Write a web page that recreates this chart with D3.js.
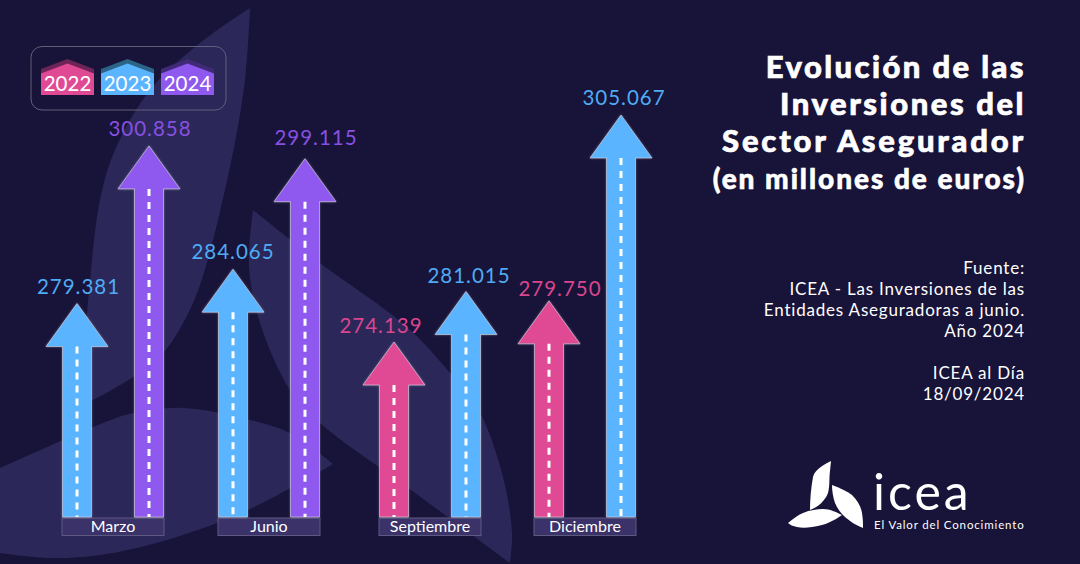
<!DOCTYPE html>
<html><head><meta charset="utf-8">
<script src="https://cdn.jsdelivr.net/npm/d3@7/dist/d3.min.js"></script>
<style>html,body{margin:0;padding:0;background:#181338}svg{display:block}text{font-family:Lato,sans-serif}</style>
</head><body><svg id="c" width="1080" height="564"></svg>
<script>
const months=["Marzo","Junio","Septiembre","Diciembre"];
const seriesNames=["2022","2023","2024"];
const seriesColors=["#e04a94","#5ab4ff","#8f58ee"];
const labelColors=["#d9468f","#4fabf3","#8750e0"];
const capColors=["#6e2457","#2c6488","#402a78"];
const arrowMonth=[0,0,1,1,2,2,3,3];
const arrowSlot=[0,1,0,1,0,1,0,1];
const arrowSeries=[1,2,1,2,0,1,0,1];
const arrowValues=[279381,300858,284065,299115,274139,281015,279750,305067];
const titleLines=["Evolución de las","Inversiones del","Sector Asegurador"];
const subtitle="(en millones de euros)";
const sourceLines=["Fuente:","ICEA - Las Inversiones de las","Entidades Aseguradoras a junio.","Año 2024","","ICEA al Día","18/09/2024"];
// layout nudges (not data)
const monthCentres=[113,269,430,585];
const labelDx=[1.5,1,0,11,-13,3,11,3];
const labelDy=[10,10,10,14,9,9,5,10];
const titleSpacing=[2.4,2.55,2.8];

const svg=d3.select("#c");
const fmt=v=>d3.format(",")(v).replace(/,/g,".");
const shape="#2b2758";
const y=d3.scaleLinear().domain([250300,305067]).range([517,115]);
const mx=d3.scaleOrdinal().domain(months).range(monthCentres);
const off=d3.scalePoint().domain([0,1]).range([-36,36]);

// background leaves
const lg=svg.append("g").attr("fill",shape);
const curve=d3.line().curve(d3.curveCatmullRom.alpha(.5));
const leaf=(a,b)=>curve(a)+curve(b).replace(/^M[^C]*/,"")+"Z";
lg.append("path").attr("d",leaf(
 [[250,8],[200,43],[150,90],[115,150],[100,200],[90,280],[85,340],[80,406]],
 [[80,406],[93,400],[133,377],[163,353],[182,325],[200,285],[230,167],[245,80],[250,8]]));
lg.append("path").attr("d",leaf(
 [[253,210],[320,263],[407,327],[450,373],[480,413],[503,477],[512,533],[510,563]],
 [[510,563],[407,487],[320,423],[290,390],[260,323],[249,267],[253,210]]));
lg.append("path").attr("d",leaf(
 [[0,468],[63,440],[93,427],[133,413],[183,408],[250,420],[290,433],[333,464]],
 [[333,464],[248,510],[167,540],[100,555],[50,558],[0,553]]));

// legend
svg.append("rect").attr("x",31).attr("y",46.5).attr("width",195).attr("height",63.5).attr("rx",11).attr("fill","none").attr("stroke","#625f78").attr("stroke-width",1);
const lx=d3.scalePoint().domain(seriesNames).range([67.5,187.5]);
seriesNames.forEach((s,i)=>{
  const g=svg.append("g").attr("transform",`translate(${lx(s)},0)`);
  g.append("path").attr("d","M-26.5 69L0 59L26.5 69V90H-26.5Z").attr("fill",capColors[i]);
  g.append("path").attr("d","M-26.5 73.5L0 63.5L26.5 73.5V95H-26.5Z").attr("fill",seriesColors[i]);
  g.append("text").attr("x",0).attr("y",91).attr("text-anchor","middle").attr("fill","#fff").attr("font-size",20.5).text(s);
});

// month boxes
months.forEach(m=>{
  const g=svg.append("g");
  g.append("rect").attr("x",mx(m)-51).attr("y",518).attr("width",102).attr("height",17.5).attr("fill","#3a3268").attr("stroke","#5d5a80").attr("stroke-width",1);
  g.append("text").attr("x",mx(m)).attr("y",532).attr("text-anchor","middle").attr("fill","#fff").attr("font-size",16).text(m);
});

// glow filter
const f=svg.append("defs").append("filter").attr("id","glow").attr("x","-30%").attr("y","-30%").attr("width","160%").attr("height","160%");
f.append("feDropShadow").attr("dx",0).attr("dy",0).attr("stdDeviation",1).attr("flood-color","#fff").attr("flood-opacity",.35);

// arrows
const base=y(250300);
arrowValues.forEach((v,i)=>{
  const cx=mx(months[arrowMonth[i]])+off(arrowSlot[i]);
  const tip=y(v),neck=tip+43;
  const c=seriesColors[arrowSeries[i]];
  svg.append("path").attr("filter","url(#glow)").attr("fill",c).attr("stroke","#d9d6e6").attr("stroke-opacity",.75).attr("stroke-width",.8)
    .attr("d",d3.line()([[cx,tip],[cx+31,neck],[cx+14.5,neck],[cx+14.5,base],[cx-14.5,base],[cx-14.5,neck],[cx-31,neck]])+"Z");
  svg.append("line").attr("x1",cx).attr("x2",cx).attr("y1",neck).attr("y2",base)
    .attr("stroke","#fff").attr("stroke-width",3).attr("stroke-dasharray","7 6");
  svg.append("text").attr("x",cx+labelDx[i]).attr("y",tip-labelDy[i]).attr("text-anchor","middle").attr("fill",labelColors[arrowSeries[i]])
    .attr("font-size",20.5).attr("letter-spacing",1).text(fmt(v));
});

// title
const tg=svg.append("g").attr("text-anchor","end").attr("fill","#fff");
titleLines.forEach((t,i)=>tg.append("text").attr("x",1026).attr("y",[77.5,114.5,151.5][i]).attr("font-size",31).attr("font-weight",900).attr("stroke","#fff").attr("stroke-width",.7).attr("letter-spacing",titleSpacing[i]).text(t));
tg.append("text").attr("x",1026).attr("y",189).attr("font-size",28).attr("font-weight",900).attr("stroke","#fff").attr("stroke-width",.6).attr("letter-spacing",1.96).text(subtitle);
sourceLines.forEach((t,i)=>tg.append("text").attr("x",1025).attr("y",274+i*21).attr("font-size",17).attr("letter-spacing",.8).text(t));

// logo
const lo=svg.append("g").attr("fill","#fff");
lo.append("path").attr("d","M831 461C820 466 814 472 813 477C811 488 810 499 810 510C818 507 825 501 828 493C830 486 829 478 830 471Z");
lo.append("path").attr("d","M832 485C840 488 847 491 852 495C858 501 861 507 862 513C863 519 863 524 863 528C855 525 850 521 845 517C840 512 837 508 835 503C833 497 832 491 832 485Z");
lo.append("path").attr("d","M788 523C793 519 798 515 803 513C810 510 817 509 823 509C830 509 836 512 842 515C838 518 834 520 830 522C824 525 818 526 812 527C806 528 801 528 797 527C793 526 790 525 788 523Z");
lo.append("text").attr("x",873).attr("y",510).attr("font-size",50).attr("letter-spacing",3).text("icea");
lo.append("text").attr("x",874).attr("y",528.5).attr("font-size",11.5).attr("letter-spacing",.85).text("El Valor del Conocimiento");
</script></body></html>
